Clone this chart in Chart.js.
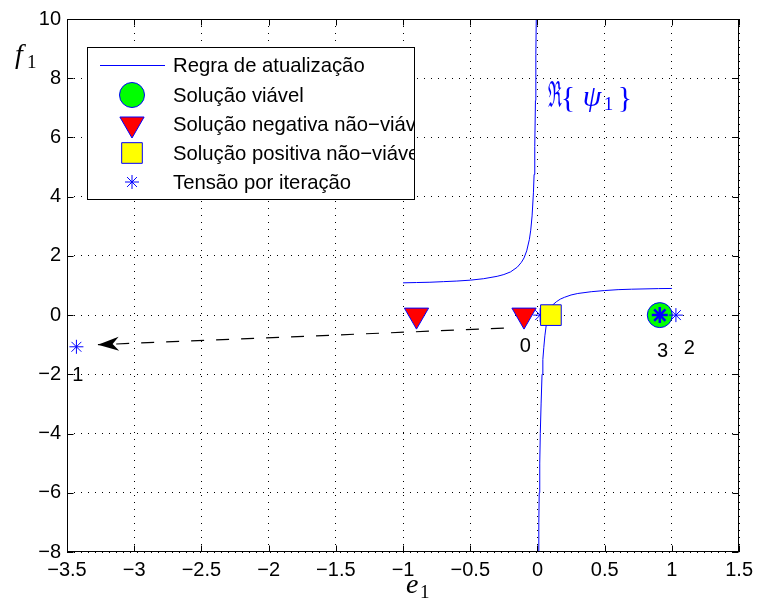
<!DOCTYPE html>
<html>
<head>
<meta charset="utf-8">
<script src="https://cdn.jsdelivr.net/npm/chart.js"></script>
<style>
  body { margin: 0; background: #fff; }
  canvas { display: block; }
</style>
</head>
<body>
<canvas id="grafico" width="759" height="599"></canvas>
<script>
// Ramo esquerdo de Re{psi1} (e1 < 0)
const ramoEsqE = [-1.0, -0.9, -0.8, -0.7, -0.6, -0.5, -0.4, -0.3, -0.25, -0.2, -0.15, -0.12, -0.1, -0.08, -0.06, -0.05, -0.04, -0.03, -0.025, -0.02, -0.015, -0.012, -0.009];
const ramoEsqF = [1.09, 1.10, 1.11, 1.13, 1.15, 1.18, 1.23, 1.31, 1.37, 1.46, 1.62, 1.78, 1.93, 2.17, 2.56, 2.87, 3.35, 4.13, 4.75, 5.7, 7.25, 8.8, 10];
// Ramo direito (e1 > 0)
const ramoDirE = [0.0075, 0.01, 0.013, 0.017, 0.021, 0.027, 0.034, 0.04, 0.047, 0.055, 0.065, 0.075, 0.09, 0.11, 0.14, 0.17, 0.2, 0.25, 0.3, 0.4, 0.5, 0.6, 0.7, 0.8, 0.9, 1.0];
const ramoDirF = [-8, -7, -6, -5, -4, -3, -2, -1.5, -1.1, -0.7, -0.35, -0.1, 0.15, 0.33, 0.45, 0.54, 0.6, 0.68, 0.73, 0.79, 0.83, 0.86, 0.875, 0.885, 0.895, 0.9];

// Soluções
const viavelE = [0.91], viavelF = [0];
const negativaE = [-0.9, -0.1], negativaF = [0, 0];
const positivaE = [0.1], positivaF = [0];

// Tensão por iteração (0, 1, 2) e a iteração 3 em destaque
const iterE = [0.02, -3.43, 1.03], iterF = [0, -1.07, 0];
const iter3E = [0.91], iter3F = [0];
const rotulos = ['0', '1', '2', '3'];
const rotuloE = [-0.09, -3.42, 1.13, 0.93];
const rotuloF = [-1.05, -2.03, -1.13, -1.24];

// Seta tracejada (cauda -> ponta)
const setaE = [-0.25, -3.27], setaF = [-0.44, -1.0];

// Eixos
const ticksX = [-3.5, -3, -2.5, -2, -1.5, -1, -0.5, 0, 0.5, 1, 1.5];
const ticksY = [-8, -6, -4, -2, 0, 2, 4, 6, 8, 10];

const legendaTextos = ['Regra de atualização', 'Solução viável', 'Solução negativa não−viável', 'Solução positiva não−viável', 'Tensão por iteração'];

const AZUL = '#0000ff';
const FONTE = '"Liberation Sans", Arial, Helvetica, sans-serif';
const SERIFA = '"Liberation Serif", "DejaVu Serif", serif';

const pontos = (xs, ys) => xs.map((x, i) => ({ x: x, y: ys[i] }));
const menos = (v) => (v < 0 ? '\u2212' : '') + Math.abs(v);

// Desenha caixa, ticks internos, seta, rótulos, legenda e textos
const extras = {
  id: 'extras',
  afterDatasetsDraw(chart) {
    const ctx = chart.ctx;
    const a = chart.chartArea;
    const sx = chart.scales.x, sy = chart.scales.y;
    ctx.save();

    // ponta da seta
    const cx = sx.getPixelForValue(setaE[0]), cy = sy.getPixelForValue(setaF[0]);
    const px = sx.getPixelForValue(setaE[1]), py = sy.getPixelForValue(setaF[1]);
    const d = Math.hypot(px - cx, py - cy);
    const ux = (px - cx) / d, uy = (py - cy) / d;
    const nx = -uy, ny = ux;
    const L = 21, W = 7;
    ctx.fillStyle = '#000';
    ctx.beginPath();
    ctx.moveTo(px, py);
    ctx.lineTo(px - ux * L + nx * W, py - uy * L + ny * W);
    ctx.lineTo(px - ux * L * 0.7, py - uy * L * 0.7);
    ctx.lineTo(px - ux * L - nx * W, py - uy * L - ny * W);
    ctx.closePath();
    ctx.fill();

    // números das iterações
    ctx.font = '20px ' + FONTE;
    ctx.textAlign = 'center';
    ctx.textBaseline = 'middle';
    rotulos.forEach((r, i) => {
      ctx.fillText(r, sx.getPixelForValue(rotuloE[i]), sy.getPixelForValue(rotuloF[i]));
    });

    // caixa e ticks para dentro (estilo MATLAB)
    const esq = Math.round(a.left) + 0.5, dir = Math.round(a.right) - 0.5;
    const top = Math.round(a.top) + 0.5, base = Math.round(a.bottom) - 0.5;
    ctx.strokeStyle = '#000';
    ctx.lineWidth = 1;
    ctx.beginPath();
    ticksX.forEach((v) => {
      const x = Math.round(sx.getPixelForValue(v)) + 0.5;
      ctx.moveTo(x, base); ctx.lineTo(x, base - 6);
      ctx.moveTo(x, top); ctx.lineTo(x, top + 6);
    });
    ticksY.forEach((v) => {
      const y = Math.round(sy.getPixelForValue(v)) + 0.5;
      ctx.moveTo(esq, y); ctx.lineTo(esq + 6, y);
      ctx.moveTo(dir, y); ctx.lineTo(dir - 6, y);
    });
    ctx.stroke();
    ctx.strokeRect(esq, top, dir - esq, base - top);

    // legenda
    const lx = 87.5, ly = 47.5, lw = 327, lh = 152;
    ctx.fillStyle = '#fff';
    ctx.fillRect(lx, ly, lw, lh);
    const mx = 132, tx = 173;
    const ys = [65, 95, 124, 153, 182];
    ctx.strokeStyle = AZUL;
    ctx.beginPath();
    ctx.moveTo(100, ys[0] + 0.5); ctx.lineTo(165, ys[0] + 0.5);
    ctx.stroke();
    const marcas = [
      null,
      { pointStyle: 'circle', radius: 12.5, rotation: 0, borderWidth: 1, cor: '#00ff00' },
      { pointStyle: 'triangle', radius: 14, rotation: 180, borderWidth: 1, cor: '#ff0000' },
      { pointStyle: 'rect', radius: 14.6, rotation: 0, borderWidth: 1, cor: '#ffff00' },
      { pointStyle: 'star', radius: 7, rotation: 0, borderWidth: 1, cor: AZUL }
    ];
    marcas.forEach((m, i) => {
      if (!m) return;
      ctx.fillStyle = m.cor;
      ctx.strokeStyle = AZUL;
      ctx.lineWidth = m.borderWidth;
      Chart.helpers.drawPoint(ctx, m, mx, ys[i]);
    });
    // o texto é cortado pela borda da legenda, como no original
    ctx.save();
    ctx.beginPath();
    ctx.rect(lx, ly, lw, lh);
    ctx.clip();
    ctx.fillStyle = '#000';
    ctx.font = '20.3px ' + FONTE;
    ctx.textAlign = 'left';
    ctx.textBaseline = 'middle';
    legendaTextos.forEach((t, i) => ctx.fillText(t, tx, ys[i] + 1));
    ctx.restore();
    ctx.strokeStyle = '#000';
    ctx.lineWidth = 1;
    ctx.strokeRect(lx, ly, lw, lh);

    // Re{psi1}
    ctx.fillStyle = AZUL;
    ctx.textBaseline = 'alphabetic';
    ctx.textAlign = 'center';
    ctx.font = '36px "DejaVu Serif", serif';
    const wR = ctx.measureText('\u211C').width;
    ctx.save();
    ctx.translate(555, 107);
    ctx.scale(14 / wR, 1);
    ctx.fillText('\u211C', 0, 0);
    ctx.restore();
    ctx.font = '30px ' + SERIFA;
    ctx.fillText('{', 568, 107);
    ctx.fillText('}', 625, 107);
    ctx.font = 'italic 30px ' + SERIFA;
    ctx.fillText('\u03C8', 592, 106);
    ctx.font = '19px ' + SERIFA;
    ctx.fillText('1', 608.5, 110);

    // rótulos dos eixos
    ctx.textAlign = 'left';
    ctx.fillStyle = '#000';
    ctx.font = 'italic 28px ' + SERIFA;
    ctx.fillText('f', 15, 63);
    ctx.fillText('e', 406, 593);
    ctx.font = '19px ' + SERIFA;
    ctx.fillText('1', 27, 68);
    ctx.fillText('1', 420, 598);

    ctx.restore();
  }
};

new Chart(document.getElementById('grafico'), {
  type: 'scatter',
  data: {
    datasets: [
      { data: pontos(ramoEsqE, ramoEsqF), showLine: true, borderColor: AZUL, borderWidth: 1, pointRadius: 0, order: 10 },
      { data: pontos(ramoDirE, ramoDirF), showLine: true, borderColor: AZUL, borderWidth: 1, pointRadius: 0, order: 10 },
      { data: pontos(setaE, setaF), showLine: true, borderColor: '#000', borderWidth: 1.2, borderDash: [13, 12], pointRadius: 0, order: 9 },
      { data: pontos(negativaE, negativaF), pointStyle: 'triangle', rotation: 180, pointRadius: 14, backgroundColor: '#ff0000', borderColor: AZUL, borderWidth: 1, order: 8 },
      { data: pontos(viavelE, viavelF), pointStyle: 'circle', pointRadius: 12.5, backgroundColor: '#00ff00', borderColor: AZUL, borderWidth: 1, order: 7 },
      { data: pontos(iterE, iterF), pointStyle: 'star', pointRadius: 7, borderColor: AZUL, borderWidth: 1, order: 6 },
      { data: pontos(positivaE, positivaF), pointStyle: 'rect', pointRadius: 14.6, backgroundColor: '#ffff00', borderColor: AZUL, borderWidth: 1, order: 5 },
      { data: pontos(iter3E, iter3F), pointStyle: 'star', pointRadius: 8, borderColor: AZUL, borderWidth: 2.5, order: 4 }
    ]
  },
  options: {
    responsive: false,
    animation: false,
    events: [],
    layout: { padding: { left: 0, top: 19, right: 17, bottom: 0 } },
    plugins: { legend: { display: false }, tooltip: { enabled: false } },
    scales: {
      x: {
        type: 'linear',
        min: -3.5, max: 1.5,
        afterFit: (s) => { s.height = 47; },
        afterBuildTicks: (s) => { s.ticks = ticksX.map((v) => ({ value: v })); },
        grid: { color: '#000', lineWidth: 1, drawTicks: false },
        border: { display: false, dash: [1, 6] },
        ticks: { color: '#000', padding: 6, font: { family: FONTE, size: 20 }, maxRotation: 0, callback: menos }
      },
      y: {
        type: 'linear',
        min: -8, max: 10,
        afterFit: (s) => { s.width = 67; },
        afterBuildTicks: (s) => { s.ticks = ticksY.map((v) => ({ value: v })); },
        grid: { color: '#000', lineWidth: 1, drawTicks: false },
        border: { display: false, dash: [1, 6] },
        ticks: { color: '#000', padding: 6, font: { family: FONTE, size: 20 }, callback: menos }
      }
    }
  },
  plugins: [extras]
});
</script>
</body>
</html>
